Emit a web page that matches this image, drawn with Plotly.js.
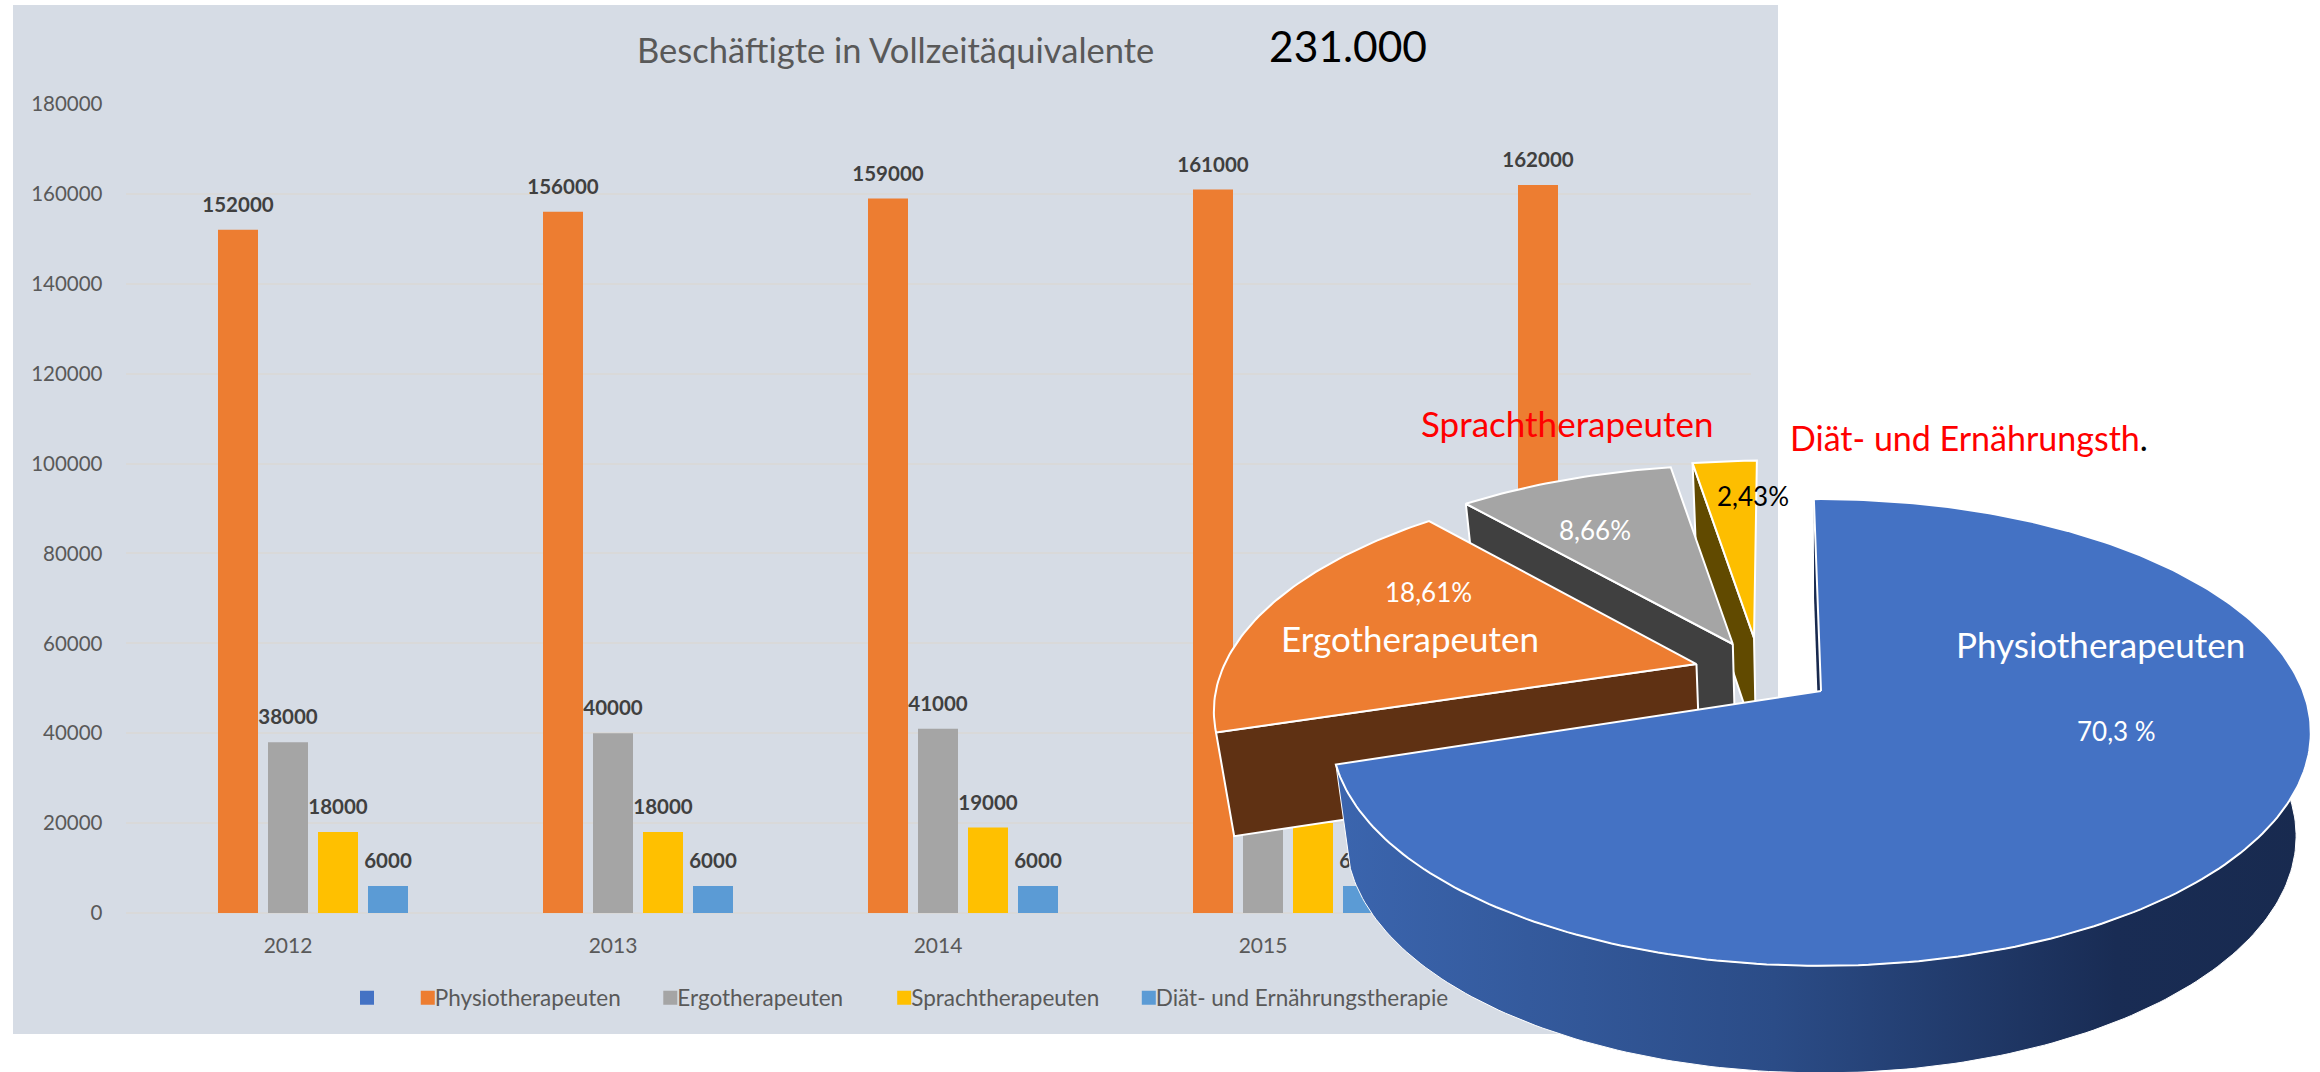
<!DOCTYPE html>
<html><head><meta charset="utf-8">
<script src="https://cdn.plot.ly/plotly-3.0.1.min.js"></script>
<style>html,body{margin:0;padding:0;background:#fff}#c{width:2320px;height:1072px}</style></head>
<body><div id="c"></div>
<script>
// ---- data ----
const years = [2012, 2013, 2014, 2015, 2016];
const physio = [152000, 156000, 159000, 161000, 162000];
const ergo = [38000, 40000, 41000, 42000, 43000];
const sprach = [18000, 18000, 19000, 20000, 20000];
const diaet = [6000, 6000, 6000, 6000, 6000];
const blank = [null, null, null, null, null];
const seriesNames = [' ', 'Physiotherapeuten', 'Ergotherapeuten', 'Sprachtherapeuten', 'Diät- und Ernährungstherapie'];
const pieShares = [70.3, 18.61, 8.66, 2.43];
const pieLabels = ['70,3 %', '18,61%', '8,66%', '2,43%'];

// ---- styles ----
const W = 2320, H = 1072;
const FONT = 'Lato, Carlito, sans-serif';
const barColors = ['#4472C4', '#ED7D31', '#A5A5A5', '#FFC000', '#5B9BD5'];
const topColors = ['#4472C4', '#ED7D31', '#A5A5A5', '#FDBE00'];
const wallColors = ['#18294E', '#5F3113', '#404040', '#614A00'];
const seriesValues = [blank, physio, ergo, sprach, diaet];
const legendPad = ['', '\u00A0\u00A0', '\u00A0\u00A0\u00A0\u00A0', '\u00A0\u00A0', ''];

// ---- pie projection: a flat disc seen in perspective ----
const cam = {x0: 1821, y0: 691, A: 482, B: 226, p: 0.1777, D: 103, t: 0.97};
const explode = [[0, 0], [-0.264, 0.13], [-0.209, 0.216], [-0.145, 0.245]];
const apexNudge = [[0, 0], [0, -0.008], [0.019, 0], [0, 0]];
const startTweak = [0, 0, 0, -0.6], endTweak = [0, -1.5, 0, 0];
const firstAngle = -1;
function proj(X, Y, low) {
  const w = 1 + cam.p * Y;
  let sx = cam.A * X / w, sy = -cam.B * Y / w;
  if (low) { sx *= cam.t; sy += cam.D / Math.pow(w, 0.2); }
  return [cam.x0 + sx, cam.y0 + sy];
}
function rim(i, deg, low) {
  const r = deg * Math.PI / 180;
  return proj(explode[i][0] + Math.sin(r), explode[i][1] + Math.cos(r), low);
}
function apex(i, low) { return proj(explode[i][0] + apexNudge[i][0], explode[i][1] + apexNudge[i][1], low); }
function arc(i, a, b, low) {
  const pts = [], n = Math.max(8, Math.ceil(Math.abs(b - a)));
  for (let k = 0; k <= n; k++) pts.push(rim(i, a + (b - a) * k / n, low));
  return pts;
}
function poly(pts, fill, lineColor, extra, lw) {
  const xs = pts.map(p => p[0]).concat(pts[0][0]);
  const ys = pts.map(p => p[1]).concat(pts[0][1]);
  return Object.assign({
    type: 'scatter', mode: 'lines', x: xs, y: ys, xaxis: 'x2', yaxis: 'y2',
    fill: 'toself', fillcolor: fill,
    line: {color: lineColor || 'rgba(0,0,0,0)', width: lineColor ? (lw || 2) : 0},
    hoverinfo: 'skip', showlegend: false
  }, extra || {});
}

const starts = [];
let acc = firstAngle;
pieShares.forEach((s, i) => { starts.push(acc + startTweak[i]); acc += s * 3.6; });
const ends = pieShares.map((s, i) => starts[i] - startTweak[i] + s * 3.6 + endTweak[i]);

// ---- traces ----
const traces = [];
seriesNames.forEach((n, i) => traces.push({
  type: 'bar', name: n + legendPad[i], x: years, y: seriesValues[i], marker: {color: barColors[i]},
  hoverinfo: 'x+y', showlegend: true
}));
const slot = 50 / 325, lift = 23 * 180000 / 809;
[1, 2, 3, 4].forEach(i => {
  const vals = seriesValues[i];
  traces.push({
    type: 'scatter', mode: 'text', x: years.map(y => y + (i - 2) * slot),
    y: vals.map(v => v + lift), text: vals.map(String), textposition: 'middle center',
    textfont: {family: FONT, size: 20.5, color: '#404040', weight: 700},
    hoverinfo: 'skip', showlegend: false, cliponaxis: false
  });
});

// back to front: yellow, grey, orange, blue
[3, 2, 1].forEach(i => {
  traces.push(poly([apex(i, false), rim(i, starts[i], false), rim(i, starts[i], true), apex(i, true)], wallColors[i], '#FFFFFF'));
  traces.push(poly([apex(i, false)].concat(arc(i, starts[i], ends[i], false)), topColors[i], '#FFFFFF'));
});
// blue outer wall with a horizontal gradient
const wallPts = arc(0, firstAngle, ends[0], false).concat(arc(0, firstAngle, ends[0], true).reverse());
traces.push(poly(wallPts, '#18294E', '#FFFFFF', {
  fillgradient: {type: 'horizontal', colorscale: [[0, '#3B65AE'], [0.45, '#2B4C87'], [0.8, '#192C54'], [1, '#182A4F']]}
}, 1));
traces.push(poly([apex(0, false), rim(0, starts[0], false), rim(0, starts[0], true), apex(0, true)], wallColors[0]));
traces.push(poly([apex(0, false)].concat(arc(0, starts[0], ends[0], false)), topColors[0], '#FFFFFF'));

function note(text, x, y, size, color) {
  return {text, x, y, xref: 'x2', yref: 'y2', xanchor: 'center', yanchor: 'middle', showarrow: false,
    font: {family: FONT, size, color}};
}
const annotations = [
  note('Sprachtherapeuten', 1567, 423, 35, '#FF0000'),
  note('<span style="color:#FF0000">Diät- und Ernährungsth</span>.', 1969, 437, 34, '#000000'),
  note(pieLabels[3], 1753, 496, 26, '#000000'),
  note(pieLabels[2], 1595, 530, 26, '#FFFFFF'),
  note(pieLabels[1], 1428, 592, 26, '#FFFFFF'),
  note('Ergotherapeuten', 1410, 638, 35, '#FFFFFF'),
  note('Physiotherapeuten', 2100, 644, 35, '#FFFFFF'),
  note(pieLabels[0], 2116, 731, 26, '#FFFFFF'),
  note('Beschäftigte in Vollzeitäquivalente', 895, 49, 34.5, '#595959'),
  note('231.000', 1348, 45, 42.5, '#000000')
];

const layout = {
  width: W, height: H, margin: {l: 0, r: 0, t: 0, b: 0, pad: 0},
  paper_bgcolor: '#FFFFFF', plot_bgcolor: 'rgba(0,0,0,0)',
  font: {family: FONT, color: '#595959', size: 20},
  barmode: 'group', bargap: 75 / 325, bargroupgap: 0.2,
  xaxis: {domain: [125.5 / W, 1750.5 / W], range: [2011.5, 2016.5], tickvals: years, ticktext: years.map(String),
    showgrid: false, zeroline: false, showline: false, ticks: '', ticklabelstandoff: 18, fixedrange: true, anchor: 'y',
    tickfont: {family: FONT, size: 21, color: '#595959'}},
  yaxis: {domain: [1 - 913 / H, 1 - 104 / H], range: [0, 180000], tick0: 0, dtick: 20000, gridcolor: '#D9D9D9', gridwidth: 2,
    zeroline: true, zerolinecolor: '#D9D9D9', zerolinewidth: 2, ticks: '', ticklabelstandoff: 22, tickformat: 'd', fixedrange: true, anchor: 'x',
    tickfont: {family: FONT, size: 20.5, color: '#595959'}},
  xaxis2: {domain: [0, 1], range: [0, W], visible: false, fixedrange: true, anchor: 'y2'},
  yaxis2: {domain: [0, 1], range: [H, 0], visible: false, fixedrange: true, anchor: 'x2'},
  showlegend: true,
  legend: {orientation: 'h', x: 344 / W, xanchor: 'left', y: 1 - 998 / H, yanchor: 'middle',
    bgcolor: 'rgba(0,0,0,0)', font: {family: FONT, size: 22.5, color: '#595959'}, traceorder: 'normal'},
  shapes: [{type: 'rect', xref: 'paper', yref: 'paper', x0: 13 / W, x1: 1778 / W, y0: 1 - 1034 / H, y1: 1 - 5 / H,
    fillcolor: '#D6DCE5', line: {width: 0}, layer: 'below'}],
  annotations
};
Plotly.newPlot('c', traces, layout, {displayModeBar: false, staticPlot: true}).then(() => {
  // the reference's legend swatches are larger and sit right next to their text
  document.querySelectorAll('.legend .traces').forEach((g, i) => {
    g.querySelectorAll('.legendpoints path').forEach(p => {
      p.setAttribute('d', i === 0 ? 'M10,-7H-4V7H10Z' : 'M20,-7H6V7H20Z');
    });
  });
});
</script></body></html>
